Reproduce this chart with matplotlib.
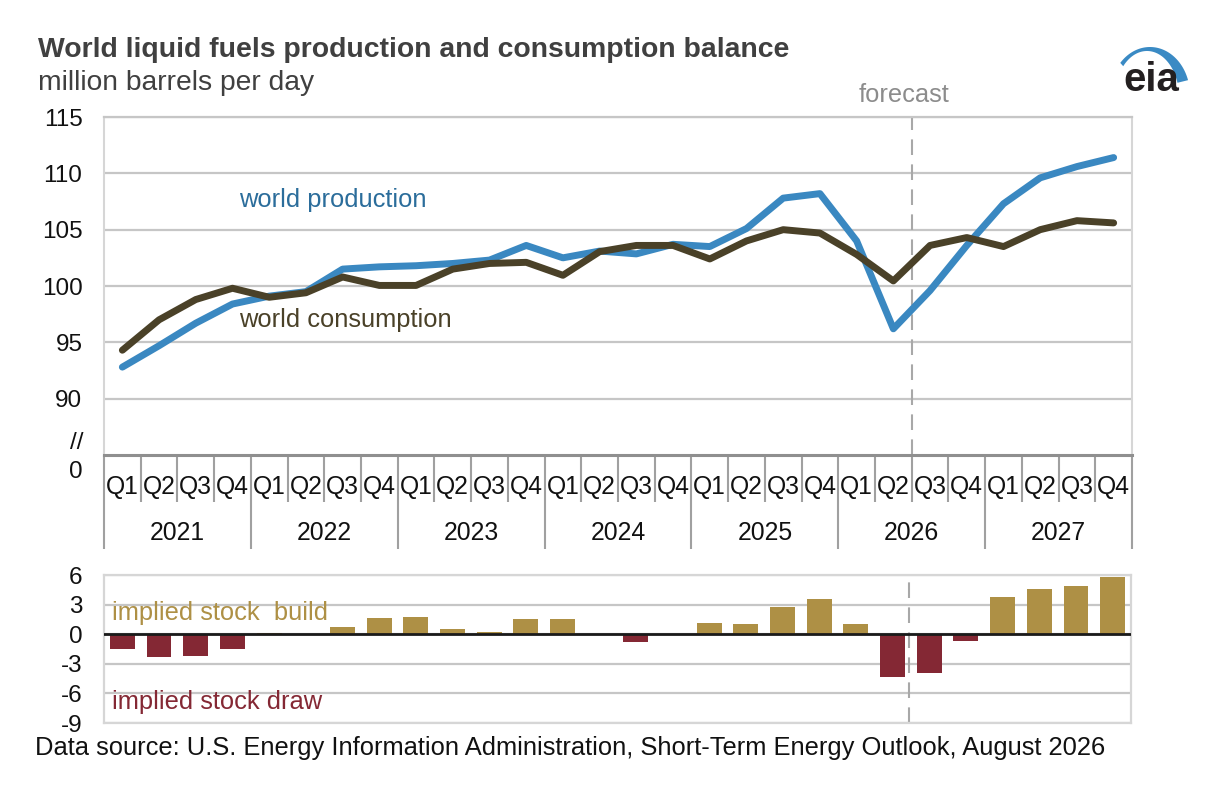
import matplotlib
matplotlib.use('Agg')
import matplotlib.pyplot as plt
import matplotlib.transforms as mtransforms
from matplotlib.patches import Polygon
import numpy as np

plt.rcParams['font.family'] = ['Liberation Sans', 'DejaVu Sans']

years = ['2021', '2022', '2023', '2024', '2025', '2026', '2027']
quarters = ['Q1', 'Q2', 'Q3', 'Q4']

# million barrels per day, 2021Q1 .. 2027Q4
production = [92.8, 94.7, 96.7, 98.4,
              99.1, 99.5, 101.5, 101.7,
              101.8, 102.0, 102.3, 103.6,
              102.5, 103.1, 102.85, 103.7,
              103.5, 105.1, 107.8, 108.2,
              104.0, 96.2, 99.6, 103.6,
              107.3, 109.6, 110.6, 111.4]
consumption = [94.3, 97.0, 98.8, 99.8,
               99.0, 99.4, 100.8, 100.05,
               100.05, 101.5, 102.0, 102.1,
               100.95, 103.05, 103.6, 103.6,
               102.4, 104.0, 105.0, 104.7,
               102.8, 100.45, 103.6, 104.3,
               103.5, 105.0, 105.8, 105.6]
stock_change = [-1.55, -2.3, -2.2, -1.45,
                0.15, 0.0, 0.7, 1.65,
                1.75, 0.5, 0.2, 1.5,
                1.55, 0.0, -0.75, 0.05,
                1.15, 1.05, 2.8, 3.6,
                1.05, -4.3, -3.95, -0.7,
                3.8, 4.6, 4.85, 5.8]

W, H = 1220, 806
fig = plt.figure(figsize=(W / 100, H / 100), dpi=100)
fig.patch.set_facecolor('white')

def fx(px):
    return px / W

def fy(py):
    return 1 - py / H

c_prod = '#3a88c1'
c_cons = '#4a4128'
c_build = '#ae9045'
c_draw = '#842834'
c_grid = '#c6c6c6'
c_frame = '#d6d6d6'
fs_tick = 17.5
fs_cat = 17.8
fs_lab = 18.4

n = len(production)
x = np.arange(n)

# ---- top panel: lines
ax1 = fig.add_axes([fx(104), fy(455), fx(1132 - 104), (455 - 117) / H])
ax1.plot(x, production, color=c_prod, lw=5, solid_capstyle='round', zorder=3)
ax1.plot(x, consumption, color=c_cons, lw=5, solid_capstyle='round', zorder=4)
ax1.set_xlim(-0.5, n - 0.5)
ax1.set_ylim(85, 115)
ax1.set_yticks([90, 95, 100, 105, 110, 115])
ax1.yaxis.grid(True, color=c_grid, lw=1.6)
ax1.set_axisbelow(True)
for s in ['left', 'right']:
    ax1.spines[s].set_color(c_frame)
    ax1.spines[s].set_linewidth(1.5)
ax1.spines['top'].set_color(c_grid)
ax1.spines['top'].set_linewidth(1.6)
ax1.spines['bottom'].set_color('#8f8f8f')
ax1.spines['bottom'].set_linewidth(2.2)
ax1.tick_params(axis='y', length=0, pad=15.5, labelsize=fs_tick, labelcolor='#111111')
ax1.set_xticks(np.arange(-0.5, n, 4))
ax1.set_xticks(np.arange(-0.5, n, 1), minor=True)
ax1.tick_params(axis='x', which='major', direction='out', length=67.7, width=1.5,
                color='#a0a0a0', labelbottom=False)
ax1.tick_params(axis='x', which='minor', direction='out', length=33.8, width=1.5,
                color='#a0a0a0', labelbottom=False)
ax1.axvline(21.5, color='#a8a8a8', lw=1.5, dashes=(7.5, 4.5), zorder=2)

trans1 = mtransforms.blended_transform_factory(ax1.transData, ax1.transAxes)
for i in range(n):
    ax1.text(i, (455 - 487) / 338, quarters[i % 4], transform=trans1, ha='center',
             va='center', fontsize=fs_cat, color='#111111')
for j, yr in enumerate(years):
    ax1.text(j * 4 + 1.5, (455 - 533) / 338, yr, transform=trans1, ha='center',
             va='center', fontsize=fs_cat, color='#111111')

ax1.text(3.18, 107.6, 'world production', color='#2b6d9b', fontsize=fs_lab, va='center')
ax1.text(3.18, 97.0, 'world consumption', color=c_cons, fontsize=fs_lab, va='center')

# ---- bottom panel: bars
ax2 = fig.add_axes([fx(104), fy(723), fx(1131 - 104), (723 - 575) / H])
colors = [c_build if v >= 0 else c_draw for v in stock_change]
ax2.bar(x, stock_change, width=0.68, color=colors, zorder=3)
ax2.set_xlim(-0.5, n - 0.5)
ax2.set_ylim(-9, 6)
ticks2 = [-9, -6, -3, 0, 3, 6]
ax2.set_yticks(ticks2)
ax2.set_yticklabels([str(t) for t in ticks2])
ax2.yaxis.grid(True, color=c_grid, lw=1.6)
ax2.set_axisbelow(True)
ax2.set_xticks([])
for s in ax2.spines.values():
    s.set_color(c_frame)
    s.set_linewidth(1.6)
ax2.tick_params(axis='y', length=0, pad=15.5, labelsize=fs_tick, labelcolor='#111111')
ax2.axhline(0, color='#1a1a1a', lw=2, zorder=4)
ax2.axvline(21.45, color='#a8a8a8', lw=1.5, dashes=(7.5, 4.5), zorder=2)
ax2.text(-0.27, 2.1, 'implied stock  build', color=c_build, fontsize=fs_lab, va='center')
ax2.text(-0.27, -6.9, 'implied stock draw', color=c_draw, fontsize=fs_lab, va='center')

# ---- titles and annotations
fig.text(fx(38), fy(50), 'World liquid fuels production and consumption balance',
         fontsize=20.4, fontweight='bold', color='#404040', va='center', ha='left')
fig.text(fx(38), fy(83), 'million barrels per day', fontsize=20.3, color='#404040',
         va='center', ha='left')
fig.text(fx(904), fy(95), 'forecast', fontsize=fs_lab, color='#8c8c8c', va='center',
         ha='center')
fig.text(fx(83), fy(443), '//', fontsize=fs_tick, color='#111111', va='center', ha='right')
fig.text(fx(83), fy(472), '0', fontsize=fs_tick, color='#111111', va='center', ha='right')
fig.text(fx(35), fy(748),
         'Data source: U.S. Energy Information Administration, Short-Term Energy Outlook, August 2026',
         fontsize=fs_lab, color='#111111', va='center', ha='left')

# eia logo
fig.text(fx(1151), fy(91), 'eia', fontsize=29, fontweight='bold', color='#231f20',
         ha='center', va='baseline')
th = np.radians(np.linspace(18, 138, 60))
outer = np.column_stack([1150 + 40 * np.cos(th), 95 - 48 * np.sin(th)])
inner = np.column_stack([1147 + 32 * np.cos(th[::-1]), 97 - 46 * np.sin(th[::-1])])
pts = np.vstack([outer, inner])
pts = np.column_stack([pts[:, 0] / W, 1 - pts[:, 1] / H])
fig.patches.append(Polygon(pts, closed=True, transform=fig.transFigure,
                           facecolor='#3a8ac4', edgecolor='none'))

fig.savefig('out.png', dpi=100, facecolor='white')
